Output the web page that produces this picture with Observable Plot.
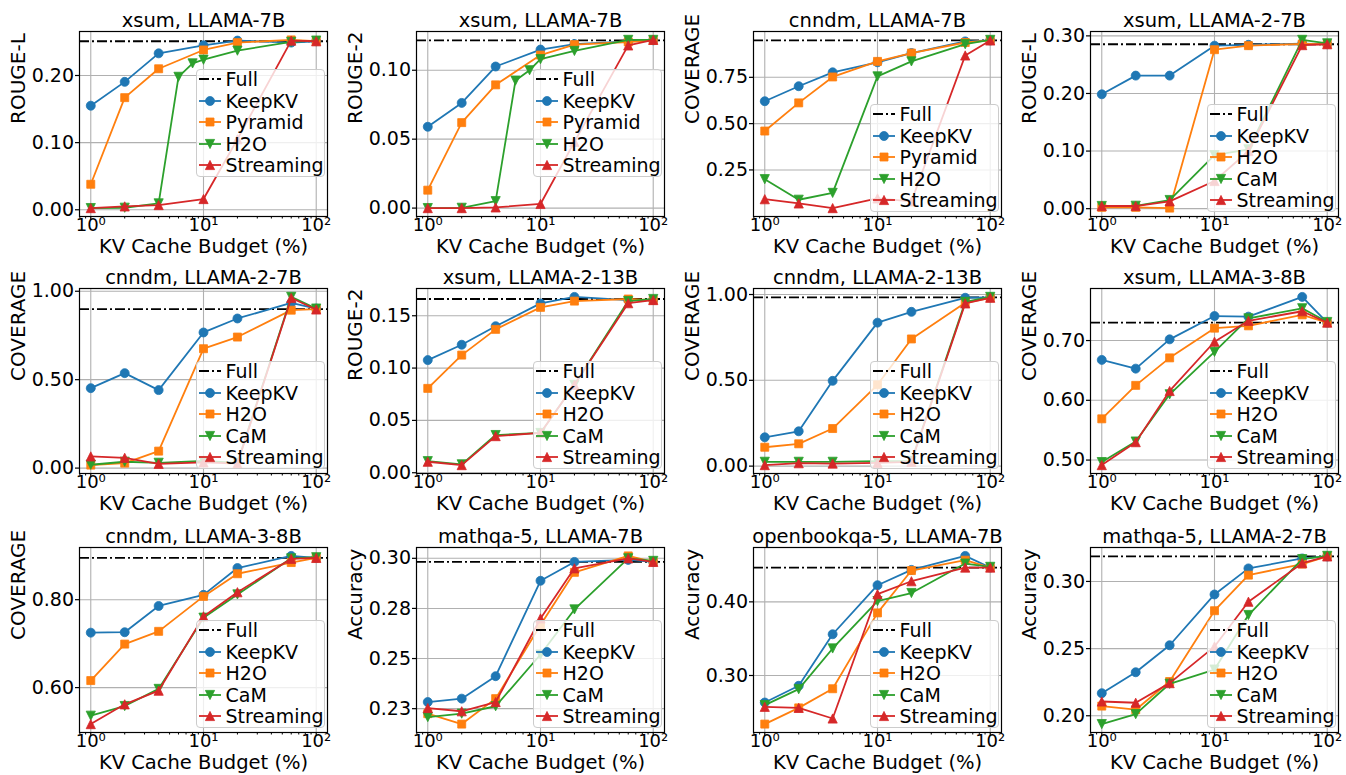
<!DOCTYPE html>
<html><head><meta charset="utf-8">
<script src="https://cdn.jsdelivr.net/npm/d3@7"></script>
<script src="https://cdn.jsdelivr.net/npm/@observablehq/plot@0.6"></script>
<style>
body{margin:0;background:#fff;font-family:"DejaVu Sans",sans-serif;}
#fig{position:relative;width:1346px;height:775px;overflow:hidden;background:#fff;}
.panel{position:absolute;}
.legend{position:absolute;width:129px;height:108px;background:rgba(255,255,255,0.8);border:1px solid #cccccc;border-radius:4px;box-sizing:border-box;}
.legend .row{position:absolute;left:0;height:22px;display:flex;align-items:center;white-space:nowrap;}
.legend .row span{font-size:19px;font-family:"DejaVu Sans";color:#000;margin-left:2px;}
</style>
</head><body>
<div id="fig"></div>
<script>
// ---------------- data ----------------
const budgets = [1, 2, 4, 10, 20, 60, 100];
const budgetsFine = [1, 2, 4, 6, 8, 10, 20, 60, 100];
const minorBudgetTicks = [0.8, 0.9, 2, 3, 4, 5, 6, 7, 8, 9, 20, 30, 40, 50, 60, 70, 80, 90];
const majorBudgetTicks = [1, 10, 100];

const panelTitles = ["xsum, LLAMA-7B", "xsum, LLAMA-7B", "cnndm, LLAMA-7B", "xsum, LLAMA-2-7B",
  "cnndm, LLAMA-2-7B", "xsum, LLAMA-2-13B", "cnndm, LLAMA-2-13B", "xsum, LLAMA-3-8B",
  "cnndm, LLAMA-3-8B", "mathqa-5, LLAMA-7B", "openbookqa-5, LLAMA-7B", "mathqa-5, LLAMA-2-7B"];
const metricLabels = ["ROUGE-L", "ROUGE-2", "COVERAGE", "ROUGE-L", "COVERAGE", "ROUGE-2",
  "COVERAGE", "COVERAGE", "COVERAGE", "Accuracy", "Accuracy", "Accuracy"];
const xLabel = "KV Cache Budget (%)";
const fullLabel = "Full";
const methodsA = ["KeepKV", "Pyramid", "H2O", "Streaming"];
const methodsB = ["KeepKV", "H2O", "CaM", "Streaming"];
const methodNames = [methodsA, methodsA, methodsA, methodsB, methodsB, methodsB,
  methodsB, methodsB, methodsB, methodsB, methodsB, methodsB];

const yTickValues = [[0, 0.1, 0.2], [0, 0.05, 0.1], [0.25, 0.5, 0.75], [0, 0.1, 0.2, 0.3],
  [0, 0.5, 1], [0, 0.05, 0.1, 0.15], [0, 0.5, 1], [0.5, 0.6, 0.7], [0.6, 0.8],
  [0.225, 0.25, 0.275, 0.3], [0.3, 0.4], [0.2, 0.25, 0.3]];

const fullScores = [0.251, 0.1217, 0.949, 0.2855, 0.899, 0.166, 0.983, 0.730, 0.895, 0.2982, 0.4466, 0.3186];

const keepkvScores = [
  [0.155, 0.1905, 0.233, 0.245, 0.252, 0.249, 0.251],
  [0.059, 0.0763, 0.1027, 0.115, 0.119, 0.121, 0.1217],
  [0.621, 0.702, 0.777, 0.831, 0.881, 0.944, 0.949],
  [0.1986, 0.231, 0.231, 0.283, 0.2845, 0.2867, 0.2855],
  [0.452, 0.537, 0.441, 0.767, 0.846, 0.934, 0.902],
  [0.1076, 0.1223, 0.140, 0.1618, 0.168, 0.165, 0.165],
  [0.168, 0.203, 0.497, 0.836, 0.899, 0.981, 0.983],
  [0.6676, 0.653, 0.702, 0.741, 0.740, 0.773, 0.730],
  [0.725, 0.726, 0.7857, 0.811, 0.872, 0.8996, 0.895],
  [0.2283, 0.230, 0.2412, 0.2888, 0.2982, 0.2992, 0.2982],
  [0.2633, 0.286, 0.356, 0.4226, 0.4434, 0.4624, 0.4466],
  [0.2168, 0.2324, 0.2525, 0.2903, 0.3097, 0.3171, 0.3186]
];
const secondScores = [
  [0.038, 0.167, 0.210, 0.238, 0.249, 0.253, 0.251],
  [0.013, 0.062, 0.0894, 0.111, 0.1186, 0.1205, 0.1217],
  [0.460, 0.612, 0.752, 0.836, 0.881, 0.938, 0.949],
  [0.0023, 0.0023, 0.001, 0.276, 0.283, 0.286, 0.2855],
  [0.017, 0.028, 0.096, 0.675, 0.741, 0.893, 0.899],
  [0.0806, 0.1124, 0.137, 0.158, 0.164, 0.166, 0.165],
  [0.110, 0.130, 0.219, 0.474, 0.741, 0.952, 0.981],
  [0.569, 0.625, 0.671, 0.7207, 0.7246, 0.743, 0.730],
  [0.616, 0.699, 0.728, 0.8075, 0.859, 0.8845, 0.895],
  [0.2225, 0.2173, 0.230, 0.2667, 0.293, 0.3012, 0.2982],
  [0.234, 0.256, 0.282, 0.385, 0.4425, 0.4566, 0.4466],
  [0.2072, 0.2045, 0.2255, 0.2782, 0.3047, 0.3129, 0.3186]
];
const thirdScores = [
  [0.0025, 0.003, 0.0095, 0.198, 0.218, 0.2235, 0.237, 0.250, 0.252],
  [0, 0.0002, 0.005, 0.0925, 0.100, 0.108, 0.114, 0.122, 0.122],
  [0.200, 0.089, 0.126, 0.755, 0.836, 0.929, 0.952],
  [0.0046, 0.005, 0.015, 0.093, 0.103, 0.293, 0.287],
  [0.019, 0.036, 0.030, 0.04, 0.03, 0.968, 0.902],
  [0.011, 0.008, 0.036, 0.038, 0.084, 0.164, 0.166],
  [0.025, 0.025, 0.025, 0.029, 0.03, 0.957, 0.986],
  [0.4966, 0.531, 0.610, 0.681, 0.737, 0.754, 0.731],
  [0.536, 0.558, 0.597, 0.759, 0.812, 0.894, 0.8966],
  [0.2208, 0.2225, 0.2262, 0.252, 0.2745, 0.300, 0.2987],
  [0.2597, 0.2814, 0.3367, 0.401, 0.412, 0.452, 0.4475],
  [0.1938, 0.2012, 0.2238, 0.2344, 0.275, 0.3166, 0.319]
];
const streamingScores = [
  [0.0025, 0.005, 0.007, 0.016, 0.105, 0.252, 0.251],
  [0, 0, 0.0005, 0.003, 0.048, 0.118, 0.122],
  [0.092, 0.069, 0.044, 0.096, 0.08, 0.868, 0.949],
  [0.0046, 0.0046, 0.0127, 0.048, 0.10, 0.284, 0.2855],
  [0.066, 0.058, 0.024, 0.032, 0.025, 0.962, 0.897],
  [0.0105, 0.0073, 0.035, 0.038, 0.084, 0.162, 0.165],
  [0.006, 0.017, 0.015, 0.019, 0.025, 0.948, 0.981],
  [0.4916, 0.530, 0.6156, 0.698, 0.733, 0.749, 0.730],
  [0.517, 0.562, 0.593, 0.762, 0.817, 0.893, 0.895],
  [0.2253, 0.2237, 0.2283, 0.270, 0.295, 0.300, 0.2982],
  [0.2575, 0.256, 0.2416, 0.4104, 0.428, 0.4466, 0.4466],
  [0.2106, 0.2097, 0.2243, 0.2515, 0.2849, 0.3136, 0.3186]
];

// ---------------- styles / layout ----------------
const colors = ["#1f77b4", "#ff7f0e", "#2ca02c", "#d62728"];
const R = 4.5;
const symPaths = {
  circle: c => { c.moveTo(R, 0); c.arc(0, 0, R, 0, 2 * Math.PI); c.closePath(); },
  square: c => { const h = 4; c.moveTo(-h, -h); c.lineTo(h, -h); c.lineTo(h, h); c.lineTo(-h, h); c.closePath(); },
  down: c => { const a = 4.6; c.moveTo(0, a); c.lineTo(-a, -a); c.lineTo(a, -a); c.closePath(); },
  up: c => { const a = 4.6; c.moveTo(0, -a); c.lineTo(-a, a); c.lineTo(a, a); c.closePath(); }
};
const symbols = ["circle", "square", "down", "up"].map(k => ({draw: (ctx) => symPaths[k](ctx)}));
const symPathString = k => { const p = d3.path(); symPaths[k](p); return p.toString(); };

const frameLefts = [79, 416, 753, 1090];
const frameTops = [31, 288, 547];
const frameW = 248, frameH = 185;
const mL = 80, mR = 8, mT = 31, mB = 43;
const legendLift = [39, 39, 4, 4, 4, 4, 4, 4, 4, 4, 4, 4];
const sup = {0: "\u2070", 1: "\u00b9", 2: "\u00b2"};
const fmtPow = d => "10" + sup[Math.round(Math.log10(d))];
const FONT = "DejaVu Sans";
const gridStyle = {stroke: "#b0b0b0", strokeOpacity: 1, strokeWidth: 1.1};

const fig = document.getElementById("fig");

for (let i = 0; i < 12; i++) {
  const col = i % 4, row = Math.floor(i / 4);
  const names = methodNames[i];
  const ys = [keepkvScores[i], secondScores[i], thirdScores[i], streamingScores[i]];
  const series = ys.map((y, k) => ({
    name: names[k],
    rows: (y.length === budgetsFine.length ? budgetsFine : budgets).map((x, j) => ({x, y: y[j]})),
    color: colors[k], symbol: symbols[k]
  }));
  const all = ys.flat().concat([fullScores[i]]);
  const lo = d3.min(all), hi = d3.max(all), pad = (hi - lo) * 0.05;

  const marks = [
    Plot.gridX(majorBudgetTicks, gridStyle),
    Plot.gridY(yTickValues[i], gridStyle),
    Plot.axisX({ticks: minorBudgetTicks, tickSize: 2.5, tickFormat: () => "", label: null, strokeWidth: 1}),
    Plot.axisX({ticks: majorBudgetTicks, tickSize: 4, tickPadding: -2, tickFormat: fmtPow, fontSize: 18, label: null, strokeWidth: 1.2}),
    Plot.axisY({ticks: yTickValues[i], tickSize: 4, tickPadding: 1.5, tickFormat: ".2f", fontSize: 19, label: null, strokeWidth: 1.2}),
    Plot.ruleY([fullScores[i]], {stroke: "black", strokeWidth: 1.8, strokeDasharray: "10,3,2,3"})
  ];
  for (const s of series) {
    marks.push(Plot.line(s.rows, {x: "x", y: "y", stroke: s.color, strokeWidth: 1.8}));
    marks.push(Plot.dot(s.rows, {x: "x", y: "y", fill: s.color, stroke: s.color, strokeWidth: 0.8, symbol: s.symbol, r: R}));
  }
  marks.push(Plot.frame({stroke: "black", strokeWidth: 1.2}));
  marks.push(Plot.text([panelTitles[i]], {text: d => d, frameAnchor: "top", lineAnchor: "middle", dy: -11, fontSize: 19.5}));
  marks.push(Plot.text([xLabel], {text: d => d, frameAnchor: "bottom", lineAnchor: "middle", dy: 30.5, fontSize: 19.5}));
  marks.push(Plot.text([metricLabels[i]], {text: d => d, frameAnchor: "left", rotate: -90, lineAnchor: "middle", dx: -61, fontSize: 20}));

  const svg = Plot.plot({
    width: mL + frameW + mR, height: mT + frameH + mB,
    marginLeft: mL, marginRight: mR, marginTop: mT, marginBottom: mB,
    style: {fontFamily: FONT, fontSize: "19px", background: "transparent", overflow: "visible", color: "black"},
    x: {type: "log", domain: [Math.pow(10, -0.1), Math.pow(10, 2.1)]},
    y: {domain: [lo - pad, hi + pad]},
    marks
  });
  const wrap = document.createElement("div");
  wrap.className = "panel";
  wrap.style.left = (frameLefts[col] - mL) + "px";
  wrap.style.top = (frameTops[row] - mT) + "px";
  wrap.appendChild(svg);
  fig.appendChild(wrap);

  // legend
  const lg = document.createElement("div");
  lg.className = "legend";
  const right = frameLefts[col] + frameW - 2.5;
  const bottom = frameTops[row] + frameH - legendLift[i];
  lg.style.left = (right - 129) + "px";
  lg.style.top = (bottom - 108) + "px";
  const entries = [{name: fullLabel, full: true}].concat(series.map((s, k) => ({name: s.name, color: s.color, k})));
  entries.forEach((e, r) => {
    const rowDiv = document.createElement("div");
    rowDiv.className = "row";
    rowDiv.style.top = (-2 + 21.5 * r) + "px";
    let sw;
    if (e.full) {
      sw = `<svg width="27" height="22"><line x1="2" x2="24" y1="11" y2="11" stroke="black" stroke-width="1.8" stroke-dasharray="10,3,2,3"/></svg>`;
    } else {
      const key = ["circle", "square", "down", "up"][e.k];
      sw = `<svg width="27" height="22"><line x1="2" x2="24" y1="11" y2="11" stroke="${e.color}" stroke-width="1.8"/><path transform="translate(13,11)" d="${symPathString(key)}" fill="${e.color}" stroke="${e.color}" stroke-width="0.8"/></svg>`;
    }
    rowDiv.innerHTML = sw + `<span>${e.name}</span>`;
    lg.appendChild(rowDiv);
  });
  fig.appendChild(lg);
}
</script>
</body></html>
